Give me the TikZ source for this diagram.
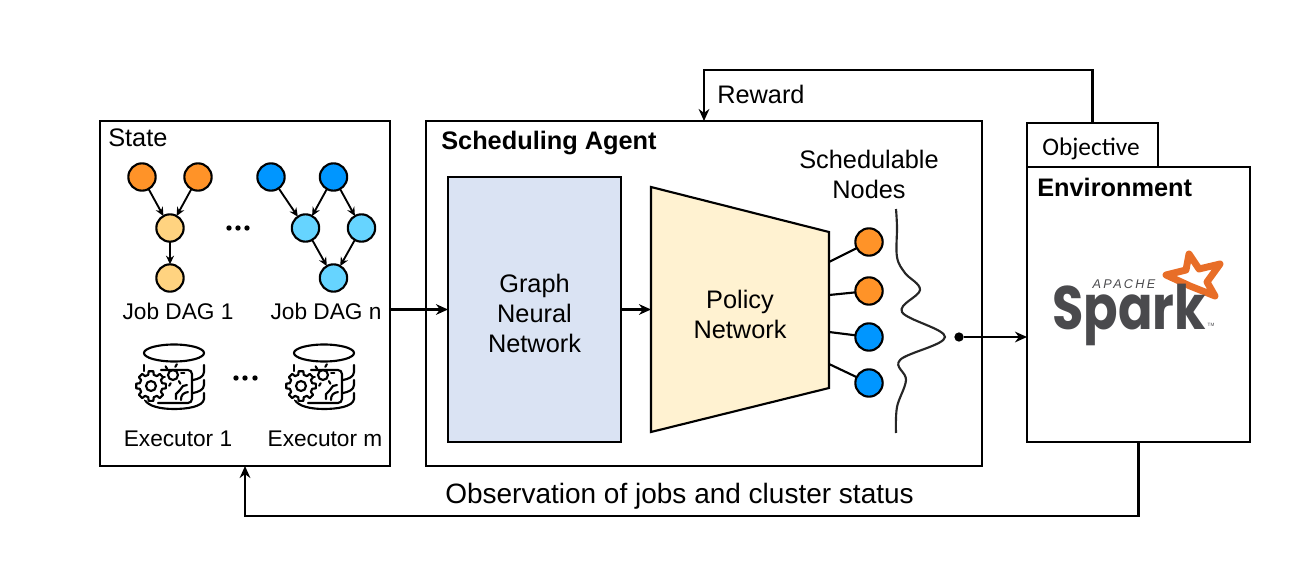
\documentclass[tikz,border=0pt]{standalone}
\usepackage{fontspec}
\setmainfont{Liberation Sans}
\newfontfamily\objfont{Carlito}
\newfontfamily\sparkfont{Poppins}
\newfontfamily\apachefont[LetterSpace=18]{Liberation Sans}
\usetikzlibrary{arrows.meta}
\definecolor{jobor}{RGB}{255,147,40}
\definecolor{joborlight}{RGB}{255,211,128}
\definecolor{jobbl}{RGB}{0,150,255}
\definecolor{jobbllight}{RGB}{102,212,255}
\definecolor{gnnblue}{RGB}{218,227,243}
\definecolor{policyyellow}{RGB}{255,242,209}
\definecolor{sparkorange}{RGB}{232,110,40}
\definecolor{sparkgray}{RGB}{74,74,77}
\tikzset{
  box/.style={draw=black,line width=1.6pt,inner sep=0pt,outer sep=0pt},
  job/.style={circle,draw=black,line width=1.6pt,minimum size=20.5pt,inner sep=0pt,outer sep=0pt},
  lbl/.style={font=\fontsize{17}{21}\selectfont,align=center,inner sep=0pt},
  big/.style={font=\fontsize{19}{22.5}\selectfont,align=center,inner sep=0pt},
  bigbold/.style={font=\fontsize{19}{22.5}\selectfont\bfseries,inner sep=0pt},
  edge/.style={-{Stealth[length=6.5pt,width=6pt]},line width=1.4pt},
  flow/.style={-{Stealth[length=9pt,width=8pt]},line width=1.6pt},
  stub/.style={line width=1.6pt},
  icon/.style={line width=1.6pt,line cap=round}
}
\begin{document}
\begin{tikzpicture}[x=0.75pt,y=-0.75pt]
    \useasboundingbox (0,0) rectangle (1316,567);

    % Main boxes
    \node[box,minimum width=217.5pt,minimum height=258.75pt] (state) at (245,293.5) {};
    \node[box,minimum width=417pt,minimum height=258.75pt] (agent) at (704,293.5) {};
    \node[box,fill=gnnblue,minimum width=129.75pt,minimum height=198.75pt] (gnn) at (534.5,309.5) {};
    \node[box,minimum width=167.25pt,minimum height=206.25pt] (env) at (1138.5,304.5) {};
    \node[box,minimum width=98.25pt,minimum height=33pt] (obj) at (1092.5,145) {};

    % Policy network
    \coordinate (P1) at (651,187);
    \coordinate (P2) at (829,232);
    \coordinate (P3) at (829,388);
    \coordinate (P4) at (651,432);
    \draw[line width=1.6pt,line join=miter,fill=policyyellow] (P1) -- (P2) -- (P3) -- (P4) -- cycle;

    % Box titles
    \node[big,anchor=west] (statetitle) at (108,138) {State};
    \node[bigbold,anchor=west] (agenttitle) at (441,143) {Scheduling Agent};
    \node[bigbold,anchor=west] (envtitle) at (1037,187) {Environment};
    \node[big,font=\fontsize{19}{22.5}\selectfont\objfont] (objtitle) at (1091,149) {Objective};
    \node[big] (gnntitle) at (534.5,313) {Graph\\Neural\\Network};
    \node[big] (policytitle) at (740,314) {Policy\\Network};
    \node[big] (schedtitle) at (869,174.5) {Schedulable\\Nodes};
    \node[big,anchor=west] (reward) at (717,94) {Reward};
    \node[big,font=\fontsize{21}{25}\selectfont] (obstitle) at (679.5,496.5) {Observation of jobs and cluster status};

    % Job DAG 1
    \node[job,fill=jobor] (a1) at (142,177) {};
    \node[job,fill=jobor] (a2) at (198,177) {};
    \node[job,fill=joborlight] (a3) at (170,228) {};
    \node[job,fill=joborlight] (a4) at (170,278) {};
    \draw[edge] (a1) -- (a3);
    \draw[edge] (a2) -- (a3);
    \draw[edge] (a3) -- (a4);

    % Job DAG n
    \node[job,fill=jobbl] (b1) at (271,177) {};
    \node[job,fill=jobbl] (b2) at (333.5,177) {};
    \node[job,fill=jobbllight] (b3) at (305.5,228) {};
    \node[job,fill=jobbllight] (b4) at (361.5,228) {};
    \node[job,fill=jobbllight] (b5) at (333.5,278) {};
    \draw[edge] (b1) -- (b3);
    \draw[edge] (b2) -- (b3);
    \draw[edge] (b2) -- (b4);
    \draw[edge] (b3) -- (b5);
    \draw[edge] (b4) -- (b5);

    \node[lbl] (dag1) at (178,311) {Job DAG 1};
    \node[lbl] (dagn) at (326,311) {Job DAG n};
    \node[lbl] (exec1) at (178,439) {Executor 1};
    \node[lbl] (execm) at (325,439) {Executor m};

    % Dots
    \foreach \x in {229,238,247}
        \fill (\x,228) circle (2.7);
    \foreach \x in {236,245,255}
        \fill (\x,378) circle (2.7);

    % Executors
    \foreach \x in {174,324} {
    \begin{scope}[shift={(\x,385)}]
        \draw[icon] (0,-32) ellipse (30 and 8.5);
        \draw[icon] (-30,-20) -- (-30,-14);
        \draw[icon] (30,-20) -- (30,-13) .. controls (30,-8) and (24,-6) .. (19,-5);
        \draw[icon] (30,-5) -- (30,0) .. controls (30,5) and (24,7) .. (19,8);
        \draw[icon] (30,8) -- (30,14) .. controls (29,22) and (12,24) .. (0,24) .. controls (-14,24) and (-26,21) .. (-29,15);
        \draw[icon,rounded corners=3] (-13,-15) -- (18,-15) -- (18,18) -- (-16,18);
        \draw[icon] (-1,-10) circle (5);
        \foreach \a in {0,60,...,300}
            \draw[icon] (-1,-10) ++(\a-14:8.5) -- ++(\a:3);
        \draw[icon] (7,15) .. controls (7,10) and (9,8) .. (14,7);
        \draw[icon] (2,14) -- (2,9) -- (6,5) -- (9,1) -- (13,0);
        \fill[white] (-23,1) circle (15);
        \draw[icon] (-23,1) circle (5);
        \begin{scope}[shift={(-23,1)}]
            \foreach \a in {0,45,...,315}
                \draw[icon,line join=round] (\a-14:11.5) -- (\a-9:15) -- (\a+9:15) -- (\a+14:11.5) arc[start angle=\a+14,end angle=\a+31,radius=11.5];
        \end{scope}
    \end{scope}
    }

    % Schedulable nodes
    \node[job,fill=jobor] (n1) at (869,242) {};
    \node[job,fill=jobor] (n2) at (869,291) {};
    \node[job,fill=jobbl] (n3) at (869,337) {};
    \node[job,fill=jobbl] (n4) at (869,383) {};
    \draw[stub] (829,262) -- (n1);
    \draw[stub] (829,295) -- (n2);
    \draw[stub] (829,332) -- (n3);
    \draw[stub] (829,364) -- (n4);

    % Distribution
    \draw[line width=1.6pt,black!85] plot[smooth,tension=0.6] coordinates {(896,209) (897,227) (897,257) (905,273) (920,290) (902,312) (945,337) (900,360) (906,380) (897,407) (896,433)};
    \node[circle,fill=black,minimum size=7pt,inner sep=0pt,outer sep=0pt] (pick) at (959,337) {};

    % Spark logo
    \draw[sparkorange,line width=5.2pt,line join=round] (1189,254) -- (1199,269) -- (1220,264) -- (1207,282) -- (1215,296) -- (1190,286) -- (1166,275) -- (1186,270) -- cycle;
    \node[text=sparkgray,inner sep=0pt,anchor=base,xscale=0.83,transform shape,font=\fontsize{46}{46}\selectfont\sparkfont\bfseries] (sparkword) at (1129,329) {Spark};
    \node[text=sparkgray,inner sep=0pt,font=\fontsize{9.5}{10}\selectfont\itshape\apachefont] (apache) at (1124,284) {APACHE};
    \node[text=sparkgray,inner sep=0pt,font=\fontsize{3.5}{4}\selectfont] (sparktm) at (1211,325) {TM};

    % Connectors
    \draw[flow] (state.east |- gnn.west) -- (gnn.west);
    \draw[flow] (gnn.east) -- (P1 |- gnn.east);
    \draw[flow] (pick) -- (env.west |- pick);
    \coordinate (rewardtop) at (704,70);
    \draw[flow] (obj.north) |- (rewardtop) -- (agent.north);
    \coordinate (obsbottom) at (245,516);
    \draw[flow] (env.south) |- (obsbottom) -- (state.south);
\end{tikzpicture}
\end{document}
